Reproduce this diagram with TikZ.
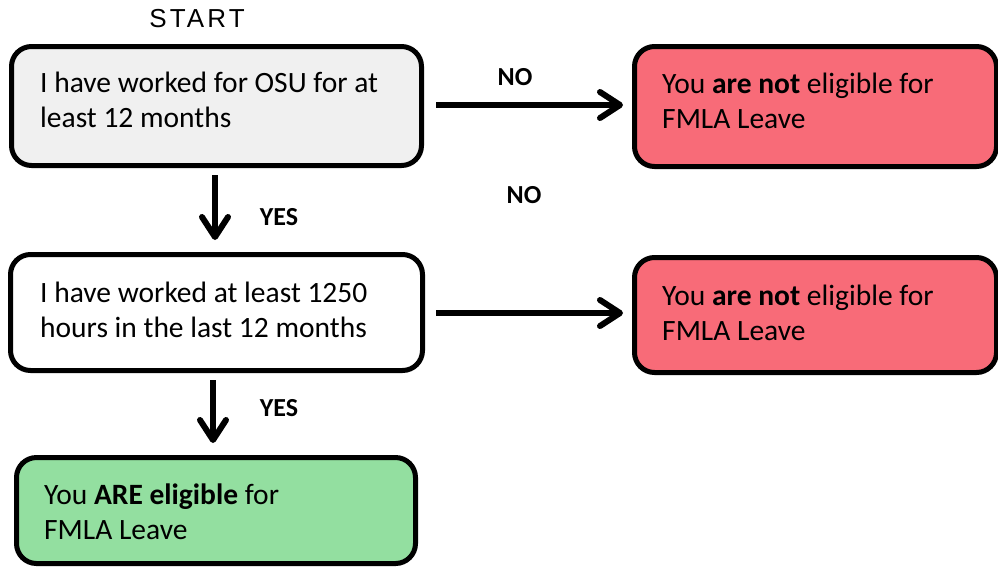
\documentclass[tikz,border=0pt]{standalone}
\usepackage{fontspec}
\setmainfont{Carlito}
\newfontfamily\startfont[LetterSpace=12]{Liberation Sans}
\usetikzlibrary{arrows.meta}
\definecolor{boxgray}{HTML}{F0F0F0}
\definecolor{boxred}{HTML}{F86B78}
\definecolor{boxgreen}{HTML}{93DFA0}
\tikzset{
  box/.style={draw=black, line width=5pt, rounded corners=20pt, inner sep=0pt},
  txt/.style={anchor=base west, inner sep=0pt, font=\fontsize{29.5}{35}\selectfont},
  lbl/.style={inner sep=0pt, font=\fontsize{26}{30}\selectfont\bfseries},
  flow/.style={line width=6pt, -{Straight Barb[length=20pt, width=26pt, line cap=round, line join=round]}, shorten >=3pt}
}
\newcommand{\twol}[2]{\begin{tabular}[t]{@{}l@{}}#1\\#2\end{tabular}}
\begin{document}
\begin{tikzpicture}[x=1pt, y=-1pt]
\useasboundingbox (0,0) rectangle (998,566);
% boxes
\node[box, fill=boxgray, minimum width=410pt, minimum height=119pt] (b1) at (216.5,106) {};
\node[box, fill=boxred, minimum width=362pt, minimum height=120pt] (b2) at (815.5,106.5) {};
\node[box, fill=white, minimum width=412pt, minimum height=116pt] (b3) at (216.5,312.5) {};
\node[box, fill=boxred, minimum width=362pt, minimum height=115pt] (b4) at (815.5,315) {};
\node[box, fill=boxgreen, minimum width=399pt, minimum height=106pt] (b5) at (216,510.5) {};
% texts
\node[txt] (t1) at (40,92) {\twol{I have worked for OSU for at}{least 12 months}};
\node[txt] (t2) at (662,93) {\twol{You \textbf{are not} eligible for}{FMLA Leave}};
\node[txt] (t3) at (40,302) {\twol{I have worked at least 1250}{hours in the last 12 months}};
\node[txt] (t4) at (662,305) {\twol{You \textbf{are not} eligible for}{FMLA Leave}};
\node[txt] (t5) at (44,504) {\twol{You \textbf{ARE eligible} for}{FMLA Leave}};
% start
\node[inner sep=0pt, font=\fontsize{26}{29}\startfont] (start) at (197,19) {START};
% labels
\node[lbl] (no1) at (515,77) {NO};
\node[lbl] (no2) at (524,195) {NO};
\node[lbl] (yes1) at (279,217) {YES};
\node[lbl] (yes2) at (279,408) {YES};
% connectors
\coordinate (a1s) at (436,105); \coordinate (a1e) at (626,105);
\draw[flow] (a1s) -- (a1e);
\coordinate (a2s) at (436,313); \coordinate (a2e) at (626,313);
\draw[flow] (a2s) -- (a2e);
\coordinate (a3s) at (215,175); \coordinate (a3e) at (215,243);
\draw[flow] (a3s) -- (a3e);
\coordinate (a4s) at (213,380); \coordinate (a4e) at (213,446);
\draw[flow] (a4s) -- (a4e);
\end{tikzpicture}
\end{document}
